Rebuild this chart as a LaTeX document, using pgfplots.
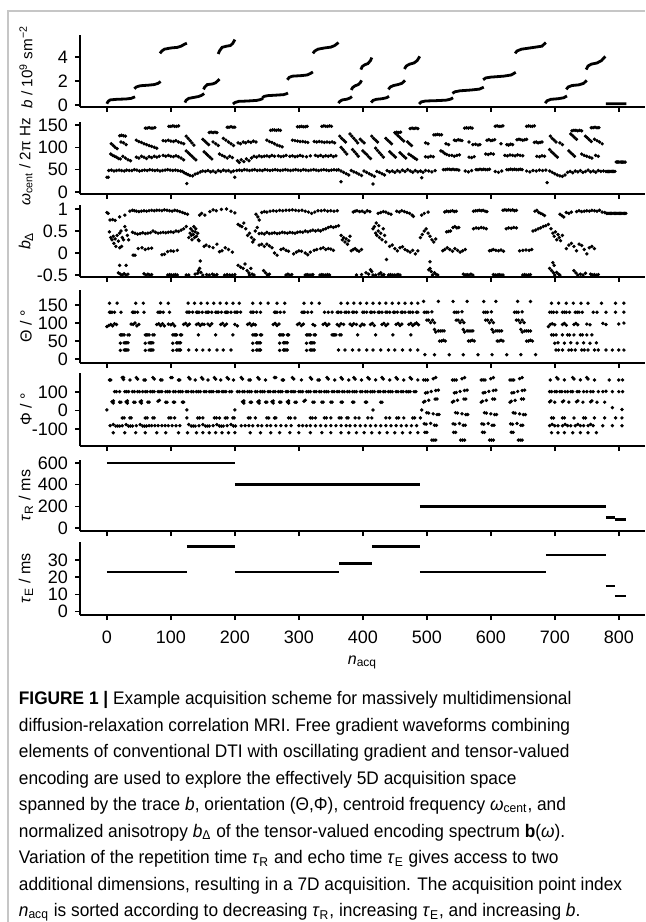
\documentclass[border=0pt]{standalone}
\usepackage{fontspec}
\setmainfont{Liberation Sans}
\newfontfamily\capfont[FakeStretch=0.95]{Liberation Sans}
\usepackage{pgfplots}
\pgfplotsset{compat=1.18}
\pgfplotsset{
 panel/.style={
   scale only axis, width=282.5pt,
   xmin=-42, xmax=841,
   axis x line*=bottom, axis y line*=left,
   axis line style={-, line width=1pt, black},
   tick align=outside,
   major tick length=2.5pt,
   every tick/.style={black, line width=0.75pt},
   xtick={0,100,...,800},
   xticklabels={},
   tick label style={font=\fontsize{9}{10}\selectfont},
   label style={font=\fontsize{8}{10}\selectfont},
   /pgf/number format/assume math mode=true,
   ylabel style={at={(axis description cs:-0.0956,0.5)}, anchor=center},
   clip=false,
   anchor=south west,
 },
 dots/.style={only marks, mark=*, mark size=0.65pt, mark options={draw=none, fill=black}},
 seg/.style={black, line width=1.4pt, no marks, unbounded coords=jump},
}
\begin{document}
\begin{tikzpicture}
\path[use as bounding box] (0,0) rectangle (322.5pt,-461pt);
\draw[gray!45, line width=1.2pt] (4pt,-461pt) -- (4pt,-5.5pt) -- (322.5pt,-5.5pt);

% ---------- b ----------
\begin{axis}[panel, at={(40pt,-53.5pt)}, height=36pt, ymin=-0.17, ymax=5.83,
  ytick={0,2,4}, yticklabels={0,2,4},
  ylabel style={xshift=2pt, font=\fontsize{7.6}{9}\selectfont},
  ylabel={\textit{b} / 10\textsuperscript{9} sm\textsuperscript{−2}}]
\addplot[seg] coordinates {
(0,0.1)(2,0.3)(5,0.42)(15,0.47)(30,0.5)(38,0.55)(44,0.68)(44,nan)
(43,1.35)(46,1.5)(52,1.6)(65,1.65)(74,1.7)(80,1.8)(84,1.95)(84,nan)
(83,4.3)(86,4.5)(90,4.65)(100,4.75)(110,4.8)(116,4.9)(121,5.05)(125,5.15)(125,nan)
(122,0.2)(124,0.4)(128,0.55)(135,0.62)(143,0.7)(148,0.8)(152,0.95)(152,nan)
(151,1.3)(153,1.5)(157,1.7)(165,1.75)(170,1.85)(174,2.05)(176,2.15)(176,nan)
(174,4.25)(176,4.5)(180,4.8)(187,4.9)(193,4.95)(197,5.15)(200,5.45)(200,nan)
(197,0.08)(200,0.2)(206,0.3)(220,0.33)(234,0.38)(240,0.45)(244,0.55)(244,nan)
(243,0.6)(246,0.72)(252,0.78)(265,0.82)(276,0.86)(280,0.92)(283,1.0)(283,nan)
(282,2.1)(285,2.3)(290,2.4)(305,2.45)(313,2.5)(318,2.62)(322,2.75)(322,nan)
(322,4.3)(325,4.5)(330,4.65)(340,4.75)(350,4.82)(356,4.95)(362,5.2)(362,nan)
(362,0.15)(364,0.3)(368,0.42)(375,0.48)(380,0.58)(383,0.7)(383,nan)
(382,1.25)(384,1.45)(388,1.6)(393,1.7)(396,1.85)(398,2.05)(398,nan)
(397,2.95)(399,3.2)(403,3.35)(408,3.45)(412,3.7)(414,3.95)(414,nan)
(413,0.2)(416,0.38)(421,0.47)(430,0.52)(437,0.6)(441,0.72)(441,nan)
(440,1.3)(443,1.5)(448,1.62)(455,1.7)(461,1.8)(466,2.05)(466,nan)
(465,3.0)(468,3.25)(473,3.4)(480,3.5)(485,3.7)(489,4.05)(489,nan)
(488,0.08)(491,0.25)(498,0.33)(515,0.36)(530,0.4)(537,0.48)(541,0.6)(541,nan)
(540,0.97)(544,1.1)(552,1.18)(570,1.25)(582,1.32)(589,1.48)(589,nan)
(588,2.1)(592,2.25)(600,2.32)(620,2.4)(632,2.5)(639,2.72)(639,nan)
(638,4.3)(641,4.5)(648,4.65)(665,4.78)(680,4.9)(686,5.2)(686,nan)
(685,0.15)(688,0.35)(694,0.47)(705,0.52)(714,0.6)(719,0.75)(719,nan)
(718,1.3)(721,1.5)(727,1.62)(738,1.68)(745,1.8)(750,2.05)(750,nan)
(749,2.95)(752,3.25)(757,3.4)(766,3.5)(773,3.7)(779,4.05)(779,nan)
(780,0.1)(812,0.1)
};
\end{axis}

% ---------- omega ----------
\begin{axis}[panel, at={(40pt,-97pt)}, height=36pt, ymin=-4.5, ymax=156.7,
  ytick={0,50,100,150}, yticklabels={0,50,100,150},
  ylabel style={xshift=-2pt, font=\fontsize{7.6}{9}\selectfont},
  ylabel={\textit{ω}\textsubscript{cent} / 2π Hz}]
\addplot[dots] coordinates {
(3,48)(7,49)(11,47)(15,48)(19,49)(23,48)(27,47)(31,49)(35,48)(39,48)(43,50)(47,49)(51,47)(55,48)(59,49)(63,48)(67,50)(71,49)(75,48)(79,49)(83,47)(87,48)(91,49)(95,50)(99,49)(103,48)(107,49)(111,48)(115,47)
(118,46)(121,43)(124,41)(127,39)(130,37)(134,36)(138,40)(142,42)(146,45)(150,47)(154,46)(158,48)(162,45)(166,47)(170,44)(174,48)(178,46)(182,49)(186,47)(190,48)(194,45)(198,47)
(203,48)(207,49)(211,48)(215,50)(219,49)(223,48)(227,49)(231,50)(235,48)(239,49)(243,48)(247,50)(251,49)(255,48)(259,49)(263,50)(267,49)(271,48)(275,49)(279,50)(283,49)(287,48)(291,49)(295,50)(299,49)(303,48)(307,50)(311,49)(315,48)(319,49)(323,50)(327,49)(331,48)(335,49)(339,50)(343,49)(347,48)(351,49)(355,50)(359,49)
(362,50)(366,47)(370,44)(374,41)(378,38)(382,48)(386,45)(390,43)(394,40)(398,37)(402,47)(406,44)(410,41)(414,38)(418,35)(422,46)(426,44)(430,41)(434,38)(438,48)(442,45)(446,47)(450,44)
(454,48)(458,45)(462,49)(466,46)(470,50)(474,47)(478,44)(482,48)(486,45)(490,47)(494,44)(498,48)
(503,47)(508,45)(513,48)
(526,50)(529,50)(532,51)(535,51)(538,50)(541,51)(544,50)(547,50)(550,49)
(560,47)(565,45)(570,48)
(577,50)(580,50)(583,51)(586,50)(589,51)(592,50)(595,50)(598,51)
(607,46)(612,44)(617,47)
(625,50)(628,50)(631,51)(634,50)(637,51)(640,50)(643,50)(646,51)(649,50)
(656,47)(661,45)(666,48)(671,47)(676,49)(681,48)(686,49)
(692,47)(696,44)(700,41)(704,38)(708,36)(712,35)(716,38)(720,44)
(724,46)(728,43)(732,47)(736,45)(740,48)(744,44)(748,46)(752,49)(756,45)(760,47)(764,44)(768,48)(772,46)(776,47)
(780,46)(782,46)(784,46)(786,46)(788,46)(790,46)(792,46)(794,46)
(796,67)(798,67)(800,67)(802,67)(804,67)(806,67)(808,67)(810,67)
(0,33)(2,33)(125,19)(200,33)(366,23)(416,18)(492,32)(688,21)
(6,85)(9,82)(12,80)(15,78)(18,75)(21,74)(25,80)(29,76)(33,72)(37,70)
(46,78)(50,76)(54,80)(58,78)(62,75)(66,79)(70,77)(74,80)(78,78)(82,80)
(88,82)(92,80)(96,82)(100,80)(104,79)(108,81)(112,79)(116,76)(120,72)
(124,92)(127,88)(130,84)(133,80)(136,76)(139,72)(152,90)(155,86)(158,82)(161,78)(164,74)(176,85)(180,82)(184,79)(188,76)(192,80)(196,77)
(204,70)(207,66)(210,72)(214,68)(218,74)(222,70)(226,76)(230,80)(234,78)(238,81)(242,79)(246,80)
(250,81)(254,79)(258,82)(262,80)(268,81)(272,79)(276,80)(280,82)(286,80)(290,81)(294,79)(298,80)(302,82)(306,80)(312,79)(318,81)
(326,82)(330,80)(334,82)(338,79)(342,81)(346,80)(350,82)(354,79)(358,81)
(366,100)(369,95)(372,90)(375,85)(384,95)(387,90)(390,85)(393,80)(400,92)(403,88)(406,84)(409,79)(412,75)(420,98)(423,93)(426,88)(429,83)(432,78)(442,90)(445,86)(448,82)(451,78)(458,88)(461,84)(464,80)(467,76)(472,85)(475,82)(478,79)(481,76)(484,73)
(498,79)(502,78)(506,80)(510,79)(522,92)(525,90)(528,86)(531,84)(535,82)(539,82)(543,80)(547,82)(551,83)(566,78)(570,77)(574,79)(592,85)(596,84)(600,86)(604,85)(622,82)(626,81)(630,83)(634,82)(638,81)(642,83)(646,82)(650,81)(672,80)(676,79)(680,81)(684,80)
(692,95)(695,90)(698,86)(701,82)(704,78)(722,92)(725,88)(728,84)(731,80)(742,85)(746,82)(750,80)(754,78)(758,76)(764,82)(768,80)
(7,108)(10,104)(13,100)(16,97)(22,112)(26,110)(30,106)(46,116)(50,113)(54,111)(58,108)(62,106)(66,104)(70,102)(74,100)(78,98)(88,115)(92,114)(96,116)(100,114)(104,113)(108,115)(112,112)(116,110)(120,108)
(124,125)(127,120)(130,115)(133,110)(136,105)(150,118)(153,114)(156,110)(159,106)(166,112)(170,108)(174,104)(182,120)(186,116)(190,112)(194,108)(198,104)
(205,110)(209,108)(213,112)(217,110)(221,113)(225,111)(229,114)(233,112)(250,116)(254,113)(258,111)(262,108)(266,105)(270,103)(274,101)(290,116)(294,115)(298,114)(302,113)(306,113)(310,112)(314,111)(324,113)(328,112)(332,113)(336,112)(340,111)(344,112)(348,111)(352,112)(356,110)
(364,125)(367,120)(370,116)(373,112)(380,130)(383,125)(386,120)(389,115)(392,110)(396,118)(399,114)(402,110)(414,125)(417,120)(420,116)(423,112)(436,120)(439,116)(442,112)(445,108)(452,130)(455,126)(458,122)(461,118)(464,114)(470,112)(473,108)(476,104)
(498,110)(502,108)(530,108)(534,106)(543,116)(546,115)(549,117)(552,116)(555,115)(566,112)(572,106)(576,107)(580,105)(583,106)(594,116)(597,117)(600,115)(603,116)(606,117)(616,108)(625,106)(628,105)(631,107)(634,106)(641,117)(644,118)(647,117)(650,116)(653,117)(656,118)(668,111)(671,112)(674,110)(677,111)(680,112)
(693,125)(696,120)(699,116)(702,112)(708,110)(712,106)(725,130)(728,126)(731,122)(734,118)(748,125)(751,121)(754,117)(757,113)(762,118)(766,115)(770,112)(774,108)
(20,126)(23,127)(26,126)(29,125)(60,143)(63,143)(66,144)(69,143)(72,143)(75,144)(97,147)(100,147)(103,148)(106,147)(109,147)(112,148)
(160,133)(163,134)(166,133)(169,134)(172,133)(188,145)(191,145)(194,146)(197,145)(200,145)
(256,138)(259,139)(262,139)(265,138)(268,139)(271,138)(298,146)(301,146)(304,147)(307,146)(310,146)(313,147)(336,147)(339,148)(342,147)(345,147)(348,148)(351,147)
(450,133)(453,134)(456,133)(459,134)(474,142)(477,143)(480,142)(483,143)(486,142)
(511,128)(514,128)(517,129)(520,128)(523,128)(559,143)(562,144)(565,143)(568,144)(571,143)(607,147)(610,148)(613,147)(616,147)(619,148)(656,147)(659,148)(662,147)(665,147)(668,148)
(727,137)(730,138)(733,138)(736,137)(739,138)(742,137)(757,144)(760,144)(763,145)(766,144)(769,144)
};
\end{axis}

% ---------- b_Delta ----------
\begin{axis}[panel, at={(40pt,-138.5pt)}, height=36pt, ymin=-0.545, ymax=1.09,
  ytick={-0.5,0,0.5,1}, yticklabels={-0.5,0,0.5,1},
  ylabel={\textit{b}\textsubscript{Δ}}]
\addplot[dots] coordinates {
(0,0.92)(2,0.9)(5,0.75)(9,0.76)(13,0.74)(20,0.82)(28,0.86)
(36,0.95)(40,0.97)(43,0.96)(46,0.95)(50,0.94)(54,0.95)(58,0.96)(62,0.95)(66,0.96)(70,0.97)(74,0.96)(78,0.97)(82,0.97)(86,0.96)(90,0.98)(94,0.97)(98,0.96)(102,0.95)(106,0.97)(110,0.96)(114,0.94)(118,0.92)(122,0.9)(126,0.88)
(145,0.86)(148,0.9)(153,0.86)(161,0.94)(166,0.98)(171,0.96)(179,0.99)(187,1.0)(194,0.95)(200,0.91)
(233,0.88)(236,0.82)(238,0.75)(242,0.92)(246,0.94)(250,0.93)(255,0.95)(260,0.96)(265,0.95)(270,0.97)(275,0.96)(280,0.97)(285,0.97)(290,0.98)(295,0.97)(300,0.96)(305,0.97)(310,0.95)(315,0.93)(320,0.9)(325,0.93)(330,0.96)(335,0.96)(340,0.97)(345,0.95)(350,0.96)(355,0.95)(360,0.96)
(385,0.93)(388,0.95)(391,0.96)(395,0.94)(399,0.95)(403,0.92)(407,0.96)(411,0.94)(424,0.9)(428,0.92)(432,0.94)(436,0.93)(440,0.9)(444,0.88)
(453,0.95)(457,0.93)(461,0.96)(465,0.94)(469,0.92)(473,0.9)(477,0.86)(479,0.83)(492,0.86)(496,0.9)(502,0.93)
(528,0.93)(531,0.95)(534,0.94)(537,0.95)(540,0.96)(543,0.94)(546,0.95)(573,0.95)(576,0.96)(579,0.96)(582,0.97)(585,0.96)(588,0.97)(591,0.95)(594,0.94)
(619,0.97)(622,0.98)(625,0.97)(628,0.98)(631,0.97)(634,0.98)(637,0.96)(640,0.97)(669,0.95)(672,0.97)(675,0.92)(678,0.9)(681,0.88)(684,0.85)
(708,0.88)(711,0.85)(714,0.82)(718,0.92)(722,0.9)(726,0.93)(734,0.94)(738,0.96)(742,0.94)(746,0.95)(750,0.96)(754,0.95)(758,0.97)(762,0.96)(766,0.95)(770,0.97)(774,0.93)(778,0.92)
(781,0.9)(783,0.9)(785,0.9)(787,0.9)(789,0.9)(791,0.9)(793,0.9)(795,0.9)(797,0.9)(799,0.9)(801,0.9)(803,0.9)(805,0.9)(807,0.9)(809,0.9)(811,0.9)
(4,0.48)(6,0.35)(8,0.3)(10,0.38)(11,0.22)(13,0.32)(14,0.15)(16,0.4)(18,0.27)(20,0.45)(22,0.5)(24,0.35)(26,0.3)(28,0.6)(30,0.52)(32,0.4)(34,0.3)
(40,0.47)(44,0.45)(48,0.43)(52,0.44)(56,0.46)(60,0.44)(64,0.45)(68,0.46)(72,0.5)(76,0.47)(80,0.45)(84,0.46)(88,0.47)(92,0.46)(96,0.47)(100,0.48)(104,0.47)(108,0.5)(112,0.49)(116,0.52)(120,0.55)(124,0.6)
(128,0.35)(130,0.45)(131,0.55)(132,0.4)(133,0.3)(134,0.5)(135,0.42)(136,0.6)(137,0.35)(138,0.48)(139,0.55)(140,0.38)(142,0.45)(143,0.3)(144,0.28)
(205,0.65)(208,0.62)(211,0.6)(214,0.68)(217,0.55)(220,0.4)(223,0.45)(226,0.35)(228,0.25)(230,0.3)(232,0.5)(235,0.58)(238,0.44)
(242,0.45)(246,0.43)(250,0.47)(254,0.44)(258,0.45)(262,0.46)(266,0.44)(270,0.45)(274,0.47)(278,0.46)(282,0.45)(286,0.47)(290,0.46)(294,0.45)(298,0.47)(302,0.48)(306,0.47)(310,0.5)(314,0.48)(318,0.5)(322,0.52)(326,0.5)(330,0.52)(334,0.5)(338,0.53)(342,0.55)(346,0.58)(350,0.6)(354,0.58)(358,0.6)(362,0.62)
(366,0.4)(368,0.3)(370,0.35)(372,0.25)(374,0.32)(376,0.2)(378,0.28)(380,0.38)
(416,0.55)(418,0.6)(420,0.45)(421,0.68)(422,0.4)(424,0.5)(425,0.62)(426,0.35)(428,0.45)(430,0.3)(432,0.55)(434,0.4)(436,0.25)
(490,0.35)(493,0.42)(496,0.5)(499,0.55)(502,0.45)(505,0.38)(508,0.3)(511,0.25)(514,0.32)
(531,0.48)(534,0.49)(537,0.5)(541,0.58)(544,0.6)(547,0.57)(550,0.58)(573,0.55)(577,0.57)(581,0.56)(585,0.58)(589,0.57)(593,0.55)(624,0.55)(628,0.57)(632,0.56)(636,0.58)(640,0.57)
(666,0.5)(670,0.52)(674,0.55)(678,0.57)(682,0.6)(686,0.62)(690,0.65)(694,0.55)(697,0.45)(699,0.38)(701,0.48)(703,0.3)(705,0.42)(707,0.35)(709,0.28)(712,0.4)
(20,0.12)(23,0.15)(41,-0.05)(44,-0.05)(49,0.1)(55,0.12)(60,0.08)(65,0.1)(70,0.11)(86,-0.04)(90,-0.03)(95,0.03)(100,0.05)(104,0.04)(110,0.06)
(146,-0.18)(152,0.15)(155,0.18)(160,0.15)(166,0.12)(172,0.2)(176,0.03)(180,0.05)(185,0.12)(190,0.08)(196,0.02)
(238,0.18)(242,0.2)(246,0.15)(250,0.2)(254,0.16)(258,0.12)(262,0.0)(266,-0.05)(272,0.08)(276,0.1)(280,0.06)(284,0.04)(292,-0.02)(296,0.02)(300,0.05)(304,0.04)(310,0.0)(314,-0.04)(318,0.02)(324,0.06)(328,0.08)
(334,0.1)(338,0.12)(342,0.08)(346,0.1)(350,0.09)(354,0.06)(382,0.05)(385,0.08)(388,0.1)(391,0.06)(394,0.04)(398,0.08)
(437,-0.15)(442,0.15)(446,0.18)(450,0.1)(454,0.05)(458,0.12)(462,0.14)(466,0.08)(470,0.05)(474,0.02)(478,0.06)(482,-0.02)(486,0.05)(505,-0.2)
(525,0.05)(528,0.08)(532,0.12)(536,0.08)(540,0.04)(544,0.1)(548,0.06)(552,0.02)(556,0.05)(560,0.08)
(598,0.05)(601,0.06)(604,0.08)(608,0.06)(612,0.05)(616,0.07)(620,0.04)(645,0.05)(650,0.06)(655,0.07)(660,0.06)(664,0.08)(697,-0.22)(699,-0.28)
(718,0.1)(722,0.18)(726,0.22)(730,0.15)(734,0.05)(738,0.2)(742,0.17)(746,0.08)(750,-0.02)(754,0.12)(758,0.15)(762,0.1)
(20,-0.28)(30,-0.28)(18,-0.45)(21,-0.48)(24,-0.5)(27,-0.47)(30,-0.5)(33,-0.48)
(58,-0.47)(61,-0.5)(64,-0.48)(67,-0.5)(70,-0.49)(95,-0.5)(98,-0.49)(101,-0.5)(104,-0.5)(107,-0.49)(110,-0.5)
(124,-0.5)(128,-0.5)(138,-0.48)(142,-0.46)(143,-0.4)(145,-0.35)(147,-0.44)(150,-0.5)(156,-0.49)(160,-0.5)(165,-0.48)(168,-0.5)(172,-0.49)(184,-0.5)(188,-0.49)(192,-0.5)(196,-0.5)(200,-0.49)
(205,-0.28)(209,-0.32)(213,-0.35)(216,-0.25)(219,-0.4)(222,-0.45)(225,-0.35)(223,-0.5)(227,-0.48)(230,-0.5)
(245,-0.4)(248,-0.45)(251,-0.5)(254,-0.48)(280,-0.5)(283,-0.48)(286,-0.5)(289,-0.49)(310,-0.5)(313,-0.49)(316,-0.5)(319,-0.5)(322,-0.49)
(333,-0.5)(336,-0.49)(339,-0.5)(342,-0.5)(345,-0.49)(348,-0.5)
(390,-0.5)(398,-0.49)(405,-0.45)(409,-0.48)(412,-0.38)(414,-0.42)(416,-0.5)(420,-0.5)(425,-0.48)(428,-0.45)(430,-0.5)(433,-0.49)
(440,-0.5)(443,-0.49)(446,-0.5)(449,-0.5)(452,-0.5)(455,-0.49)(458,-0.5)
(503,-0.38)(505,-0.35)(507,-0.42)(509,-0.5)(512,-0.45)(514,-0.48)(517,-0.5)
(557,-0.48)(560,-0.5)(563,-0.49)(566,-0.5)(569,-0.48)(572,-0.5)(604,-0.49)(607,-0.5)(610,-0.5)(613,-0.49)(616,-0.5)(619,-0.5)
(650,-0.5)(653,-0.49)(656,-0.5)(659,-0.5)(662,-0.49)
(692,-0.35)(695,-0.4)(698,-0.45)(700,-0.5)(703,-0.44)(706,-0.48)(708,-0.5)
(730,-0.4)(733,-0.45)(736,-0.5)(740,-0.48)(744,-0.5)(748,-0.46)(756,-0.48)(759,-0.5)(762,-0.49)(765,-0.5)(768,-0.49)
};
\end{axis}

% ---------- Theta ----------
\begin{axis}[panel, at={(40pt,-181.5pt)}, height=36.5pt, ymin=-11.1, ymax=191.7,
  ytick={0,50,100,150}, yticklabels={0,50,100,150},
  ylabel={Θ / °}]
\addplot[dots] coordinates {
(4,155)(16,155)(45,155)(57,155)(84,155)(96,155)(127,155)(137,155)(147,155)(157,155)(167,155)(177,155)(187,155)(197,155)(207,155)(228,155)(240,155)(252,155)(266,155)(278,155)(308,155)(320,155)(332,155)(366,155)(376,155)(386,155)(396,155)(406,155)(416,155)(426,155)(436,155)(446,155)(456,155)(466,155)(476,155)(486,155)
(4,130)(6,130)(8,130)(12,130)(22,130)(40,130)(42,130)(44,130)(48,130)(58,130)(80,130)(82,130)(84,130)(88,130)(98,130)(125,130)(127,130)(129,130)(134,130)(140,130)(142,130)(144,130)(149,130)(155,130)(157,130)(159,130)(164,130)(170,130)(172,130)(174,130)(179,130)(185,130)(187,130)(189,130)(194,130)(200,130)(202,130)(204,130)(209,130)(225,130)(227,130)(229,130)(234,130)(240,130)(262,130)(264,130)(266,130)(271,130)(277,130)(305,130)(307,130)(309,130)(314,130)(320,130)(340,130)(346,130)(352,130)(360,130)(362,130)(366,130)(372,130)(374,130)(378,130)(384,130)(386,130)(390,130)(400,130)(402,130)(406,130)(412,130)(414,130)(418,130)(424,130)(426,130)(430,130)(436,130)(438,130)(442,130)(448,130)(450,130)(454,130)(460,130)(462,130)(466,130)(472,130)(474,130)(478,130)(484,130)(486,130)
(0,90)(3,93)(6,96)(9,92)(12,98)(15,96)(38,97)(41,96)(44,100)(47,92)(50,96)(78,96)(81,98)(84,93)(87,98)(90,92)(96,97)(100,95)(103,98)(106,92)(120,96)(123,99)(126,93)(129,97)(140,96)(143,98)(146,93)(149,97)(152,96)(158,97)(161,93)(164,98)(178,96)(181,99)(184,93)(187,97)(200,96)(204,92)(220,96)(223,99)(226,93)(229,97)(232,95)(260,96)(263,99)(266,93)(269,97)(298,96)(301,99)(304,93)(307,97)(322,96)(325,93)(338,96)(341,99)(344,93)(347,97)(360,96)(363,92)(366,98)(370,96)(380,97)(383,93)(386,98)(390,96)(396,92)(399,97)(402,95)(412,96)(415,99)(418,93)(430,96)(433,99)(436,93)(439,97)(452,96)(455,99)(458,93)(461,97)(472,96)(475,99)(478,93)(481,97)(484,100)(487,95)
(21,67)(23,67)(25,67)(27,67)(33,67)(35,67)(60,67)(62,67)(64,67)(66,67)(72,67)(74,67)(103,67)(105,67)(107,67)(109,67)(115,67)(117,67)(143,67)(170,67)(197,67)(228,67)(230,67)(232,67)(234,67)(240,67)(242,67)(270,67)(272,67)(274,67)(276,67)(282,67)(284,67)(312,67)(314,67)(316,67)(318,67)(324,67)(326,67)(352,67)(354,67)(356,67)(358,67)(364,67)(366,67)(392,67)(420,67)(447,67)(475,67)
(21,44)(27,45)(29,45)(31,45)(33,45)(60,44)(66,45)(68,45)(70,45)(72,45)(103,44)(109,45)(111,45)(113,45)(115,45)(228,44)(234,45)(236,45)(238,45)(240,45)(270,44)(276,45)(278,45)(280,45)(282,45)(312,44)(318,45)(320,45)(322,45)(324,45)
(21,24)(27,25)(29,25)(31,25)(33,25)(60,24)(66,25)(68,25)(70,25)(72,25)(103,24)(109,25)(111,25)(113,25)(115,25)(228,24)(234,25)(236,25)(238,25)(240,25)(270,24)(276,25)(278,25)(280,25)(282,25)(312,24)(318,25)(320,25)(322,25)(324,25)
(128,25)(140,25)(150,25)(160,25)(172,25)(182,25)(194,25)(362,25)(372,25)(384,25)(394,25)(406,25)(416,25)(428,25)(440,25)(450,25)(462,25)(474,25)(486,25)
(495,160)(518,160)(541,160)(563,160)(589,160)(608,160)(642,160)(662,160)
(496,130)(499,130)(502,130)(508,131)(543,130)(546,130)(549,130)(555,131)(589,130)(592,130)(595,130)(601,131)(637,130)(640,130)(643,130)(649,131)
(500,108)(503,108)(506,101)(509,108)(512,101)(546,108)(549,108)(552,101)(555,108)(558,101)(592,108)(595,108)(598,101)(601,108)(604,101)(640,108)(643,108)(646,101)(649,108)(652,101)
(512,82)(514,75)(518,78)(521,78)(524,78)(527,78)(557,82)(559,75)(563,78)(566,78)(569,78)(572,78)(602,82)(604,75)(608,78)(611,78)(614,78)(617,78)(647,82)(649,75)(653,78)(656,78)(659,78)(662,78)
(520,50)(523,50)(526,52)(529,50)(565,50)(568,50)(571,52)(574,50)(610,50)(613,50)(616,52)(619,50)(656,50)(659,50)(662,52)(665,50)
(497,12)(512,12)(535,12)(557,12)(580,12)(602,12)(625,12)(647,12)(670,12)
(695,155)(706,155)(718,155)(729,155)(741,155)(752,155)(773,155)(795,155)(808,155)
(692,130)(695,130)(698,130)(703,130)(712,130)(715,130)(718,130)(723,130)(732,130)(735,130)(738,130)(743,130)(760,130)(766,130)(780,130)(795,130)(808,130)
(690,90)(693,96)(696,98)(700,95)(712,96)(715,99)(718,94)(730,96)(733,99)(736,95)(750,97)(755,95)(775,99)(780,96)(800,97)(808,100)
(695,67)(698,67)(702,67)(712,67)(720,67)(723,67)(730,67)(740,67)(743,67)(750,67)(758,67)
(700,44)(705,45)(715,44)(725,45)(735,44)(745,45)(755,44)(765,45)
(702,25)(706,25)(712,25)(722,25)(726,25)(732,25)(742,25)(746,25)(752,25)(762,25)(768,25)(780,25)(790,25)(800,25)(808,25)
};
\end{axis}

% ---------- Phi ----------
\begin{axis}[panel, at={(40pt,-223pt)}, height=36.5pt, ymin=-191.9, ymax=202.7,
  ytick={-100,0,100}, yticklabels={-100,0,100},
  ylabel={Φ / °}]
\addplot[dots] coordinates {
(4,165)(6,165)(24,178)(26,178)(26,168)(36,165)(46,178)(48,170)(58,165)(60,165)(72,178)(74,170)(84,165)(86,165)(100,178)(102,178)(112,165)(114,165)(128,178)(130,170)(138,165)(148,178)(150,170)(158,165)(168,178)(170,170)(178,165)(188,178)(190,170)(198,165)(210,178)(212,170)(222,165)(224,165)(236,178)(238,170)(248,165)(262,178)(264,178)(274,165)(276,165)(290,178)(292,170)(304,165)(318,178)(320,170)(330,165)(332,165)(344,178)(346,170)(356,165)(366,178)(368,170)(378,165)(386,178)(388,170)(398,165)(408,178)(410,170)(420,165)(430,178)(432,170)(442,165)(452,178)(454,170)(464,165)(474,178)(476,170)(486,165)
(12,102)(15,102)(20,102)(28,102)(31,102)(34,102)(40,102)(43,102)(48,102)(51,102)(56,102)(60,102)(63,102)(68,102)(71,102)(74,102)(80,102)(83,102)(86,102)(92,102)(95,102)(98,102)(104,102)(107,102)(112,102)(115,102)(118,102)(124,102)(127,102)(132,102)(135,102)(140,102)(143,102)(146,102)(152,102)(155,102)(160,102)(163,102)(166,102)(172,102)(175,102)(180,102)(183,102)(186,102)(192,102)(195,102)(204,102)(207,102)(212,102)(215,102)(220,102)(223,102)(226,102)(232,102)(235,102)(240,102)(243,102)(246,102)(252,102)(255,102)(260,102)(263,102)(268,102)(271,102)(274,102)(280,102)(283,102)(288,102)(291,102)(294,102)(300,102)(303,102)(306,102)(312,102)(315,102)(318,102)(324,102)(327,102)(332,102)(335,102)(340,102)(343,102)(346,102)(352,102)(355,102)(360,102)(363,102)(368,102)(371,102)(376,102)(379,102)(384,102)(387,102)(390,102)(396,102)(399,102)(404,102)(407,102)(412,102)(415,102)(418,102)(424,102)(427,102)(432,102)(435,102)(440,102)(443,102)(446,102)(452,102)(455,102)(460,102)(463,102)(468,102)(471,102)(474,102)(480,102)(483,102)
(8,47)(10,52)(10,40)(20,45)(22,45)(30,47)(32,52)(32,40)(42,45)(44,45)(52,47)(54,52)(54,40)(64,45)(66,45)(80,50)(82,55)(92,45)(94,45)(104,45)(106,45)(118,45)(120,45)(212,47)(214,52)(214,40)(224,45)(226,45)(236,47)(238,52)(238,40)(248,45)(250,45)(258,47)(260,52)(260,40)(270,45)(272,45)(282,47)(284,52)(284,40)(294,45)(296,45)(308,50)(310,55)(322,45)(324,45)(336,45)(338,45)(350,45)(352,45)(366,45)(368,45)(384,45)(386,45)(404,45)(406,45)(428,45)(430,45)
(0,3)(125,3)(200,3)(416,3)(492,3)
(24,-40)(27,-40)(36,-40)(38,-40)(60,-40)(63,-40)(72,-40)(74,-40)(97,-40)(100,-40)(106,-40)(125,-40)(142,-40)(145,-40)(150,-40)(168,-40)(171,-40)(176,-40)(185,-40)(188,-40)(197,-40)(199,-40)(221,-40)(224,-40)(232,-40)(250,-40)(253,-40)(262,-40)(264,-40)(284,-40)(287,-40)(294,-40)(318,-40)(321,-40)(326,-40)(340,-40)(343,-40)(350,-40)(363,-40)(366,-40)(375,-40)(377,-40)(388,-40)(394,-40)(408,-40)(414,-40)(436,-40)(442,-40)(453,-40)(456,-40)(464,-40)(478,-40)(481,-40)(490,-40)
(5,-82)(10,-76)(14,-84)(17,-84)(20,-84)(24,-82)(30,-76)(34,-84)(37,-84)(40,-84)(46,-82)(52,-76)(56,-84)(59,-84)(62,-84)(66,-82)(70,-82)(75,-82)(80,-82)(86,-82)(91,-82)(96,-82)(102,-82)(108,-82)(114,-82)(128,-76)(132,-84)(135,-84)(138,-84)(144,-82)(150,-76)(154,-84)(157,-84)(160,-84)(166,-82)(172,-76)(176,-84)(179,-84)(182,-84)(188,-82)(194,-76)(198,-84)(201,-84)(210,-82)(216,-82)(222,-82)(228,-82)(236,-82)(242,-82)(250,-82)(256,-82)(264,-82)(272,-82)(280,-82)(288,-82)(300,-82)(306,-82)(312,-82)(318,-82)(326,-82)(334,-82)(342,-82)(350,-82)(358,-82)(366,-82)(374,-82)(380,-82)(388,-82)(396,-82)(404,-82)(412,-82)(420,-82)(428,-82)(436,-82)(444,-82)(452,-82)(460,-82)(468,-82)(476,-82)(484,-82)
(10,-120)(28,-120)(45,-120)(60,-120)(78,-120)(92,-120)(112,-120)(126,-120)(140,-120)(150,-120)(160,-120)(170,-120)(180,-120)(190,-120)(200,-120)(224,-120)(240,-120)(256,-120)(270,-120)(286,-120)(300,-120)(318,-120)(336,-120)(350,-120)(366,-120)(378,-120)(390,-120)(402,-120)(414,-120)(426,-120)(438,-120)(450,-120)(462,-120)(474,-120)(486,-120)
(495,165)(498,165)(501,165)(510,172)(514,178)(540,165)(543,165)(546,165)(555,172)(559,178)(585,165)(588,165)(591,165)(600,172)(604,178)(630,165)(633,165)(636,165)(645,172)(649,178)
(498,95)(501,97)(507,103)(514,108)(518,110)(543,95)(546,97)(552,103)(559,108)(563,110)(588,95)(591,97)(597,103)(604,108)(608,110)(633,95)(636,97)(642,103)(649,108)(653,110)
(495,45)(497,50)(503,55)(513,62)(516,62)(540,45)(542,50)(548,55)(558,62)(561,62)(585,45)(587,50)(593,55)(603,62)(606,62)(630,45)(632,50)(638,55)(648,62)(651,62)
(500,-12)(503,-14)(510,-18)(516,-22)(519,-22)(545,-12)(548,-14)(555,-18)(561,-22)(564,-22)(590,-12)(593,-14)(600,-18)(606,-22)(609,-22)(635,-12)(638,-14)(645,-18)(651,-22)(654,-22)
(496,-72)(499,-74)(506,-70)(512,-80)(515,-80)(541,-72)(544,-74)(551,-70)(557,-80)(560,-80)(586,-72)(589,-74)(596,-70)(602,-80)(605,-80)(631,-72)(634,-74)(641,-70)(647,-80)(650,-80)
(497,-118)(500,-118)(508,-160)(511,-160)(514,-160)(542,-118)(545,-118)(553,-160)(556,-160)(559,-160)(587,-118)(590,-118)(598,-160)(601,-160)(604,-160)(632,-118)(635,-118)(643,-160)(646,-160)(649,-160)
(693,165)(703,178)(705,170)(715,165)(728,178)(730,170)(740,165)(750,178)(752,170)(762,165)(785,165)(800,165)(806,165)
(692,102)(695,102)(700,102)(703,102)(708,102)(711,102)(716,102)(720,102)(725,102)(728,102)(735,102)(738,102)(745,102)(750,102)(756,102)(760,102)(768,102)(775,102)(780,104)(790,102)(800,102)(806,102)
(692,47)(694,52)(700,45)(712,47)(714,52)(722,45)(734,47)(736,52)(744,45)(756,47)(758,52)(766,45)(778,45)(790,15)(805,5)
(695,-40)(698,-40)(712,-40)(715,-40)(730,-40)(745,-40)(748,-40)(762,-40)(778,-40)(795,-40)(805,-40)
(692,-82)(696,-75)(700,-82)(705,-82)(712,-82)(716,-75)(720,-82)(725,-82)(732,-82)(736,-75)(740,-82)(745,-82)(752,-82)(756,-75)(760,-82)(775,-82)(790,-82)(805,-82)
(695,-120)(705,-120)(715,-120)(728,-120)(740,-120)(752,-120)(765,-120)
};
\end{axis}

% ---------- tau_R ----------
\begin{axis}[panel, at={(40pt,-265.5pt)}, height=35.5pt, ymin=-27.7, ymax=628,
  ytick={0,200,400,600}, yticklabels={0,200,400,600},
  ylabel={\textit{τ}\textsubscript{R} / ms}]
\addplot[seg] coordinates {
(0,600)(200,600)(200,nan)(200,400)(489,400)(489,nan)(489,200)(780,200)(780,nan)(780,100)(794,100)(794,nan)(794,82)(812,82)
};
\end{axis}

% ---------- tau_E ----------
\begin{axis}[panel, at={(40pt,-307.5pt)}, height=36.5pt, ymin=-2, ymax=40.4,
  ytick={0,10,20,30}, yticklabels={0,10,20,30},
  xticklabels={0,100,200,300,400,500,600,700,800},
  xticklabel style={yshift=-2pt},
  xlabel={\textit{n}\textsubscript{acq}},
  xlabel style={yshift=1pt},
  ylabel={\textit{τ}\textsubscript{E} / ms}]
\addplot[seg] coordinates {
(0,23)(125,23)(125,nan)(125,37.7)(200,37.7)(200,nan)(200,23)(363,23)(363,nan)(363,27.9)(414,27.9)(414,nan)(414,37.7)(489,37.7)(489,nan)(489,23)(686,23)(686,nan)(686,32.9)(780,32.9)(780,nan)(780,14.9)(794,14.9)(794,nan)(794,9)(812,9)
};
\end{axis}

% ---------- caption ----------
\begin{scope}[every node/.style={anchor=base west, inner sep=0pt, font=\capfont\fontsize{9.1}{10}\selectfont}]
\node at (9.25pt,-352.25pt) {\textbf{FIGURE 1 |} Example acquisition scheme for massively multidimensional};
\node at (9.25pt,-365.5pt) {diffusion-relaxation correlation MRI. Free gradient waveforms combining};
\node at (9.25pt,-378.75pt) {elements of conventional DTI with oscillating gradient and tensor-valued};
\node at (9.25pt,-392pt) {encoding are used to explore the effectively 5D acquisition space};
\node at (9.25pt,-405.25pt) {spanned by the trace \textit{b}, orientation (Θ,Φ), centroid frequency \textit{ω}\textsubscript{cent}, and};
\node at (9.25pt,-418.5pt) {normalized anisotropy \textit{b}\textsubscript{Δ} of the tensor-valued encoding spectrum \textbf{b}(\textit{ω}).};
\node at (9.25pt,-431.75pt) {Variation of the repetition time \textit{τ}\textsubscript{R} and echo time \textit{τ}\textsubscript{E} gives access to two};
\node at (9.25pt,-445pt) {additional dimensions, resulting in a 7D acquisition. The acquisition point index};
\node at (9.25pt,-458.25pt) {\textit{n}\textsubscript{acq} is sorted according to decreasing \textit{τ}\textsubscript{R}, increasing \textit{τ}\textsubscript{E}, and increasing \textit{b}.};
\end{scope}
\end{tikzpicture}
\end{document}
